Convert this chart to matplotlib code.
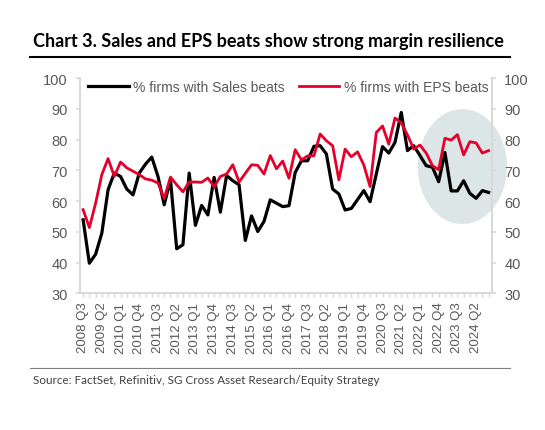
import numpy as np
import matplotlib.pyplot as plt
from matplotlib.patches import Ellipse
from matplotlib.ticker import MultipleLocator

# quarterly data, 2008 Q3 .. 2024 Q4
start_year, start_q = 2008, 3
sales_beats = [53.9, 39.8, 42.7, 49.6, 63.7, 69.1, 68.0, 63.9, 62.0, 69.1,
               72.0, 74.3, 68.0, 58.8, 67.0, 44.5, 45.8, 69.1, 52.1, 58.6,
               55.5, 67.7, 56.4, 68.3, 66.6, 65.3, 47.2, 55.2, 50.1, 53.4,
               60.4, 59.3, 58.2, 58.5, 69.3, 73.1, 73.1, 77.8, 78.0, 75.3,
               63.9, 62.3, 57.1, 57.6, 60.5, 63.4, 59.8, 68.8, 77.7, 75.6,
               79.1, 88.8, 76.4, 78.0, 74.8, 71.5, 71.0, 66.3, 75.8, 63.3,
               63.3, 66.6, 62.5, 60.9, 63.4, 62.8]
eps_beats = [57.2, 51.4, 59.3, 68.6, 73.8, 68.0, 72.7, 70.8, 69.7, 68.6,
             67.2, 66.8, 65.9, 60.8, 67.8, 65.3, 63.0, 66.2, 66.2, 66.1,
             67.5, 64.6, 68.0, 68.8, 71.8, 66.2, 69.0, 71.8, 71.6, 68.8,
             74.8, 70.5, 73.0, 67.4, 76.7, 73.4, 74.7, 74.7, 81.8, 79.6,
             78.0, 66.9, 76.9, 74.4, 76.0, 71.7, 64.7, 82.3, 84.4, 78.5,
             87.0, 85.4, 81.5, 76.9, 78.2, 75.6, 71.5, 70.2, 80.4, 79.8,
             81.6, 75.0, 79.3, 78.9, 75.6, 76.4]

labels = []
y, q = start_year, start_q
for _ in sales_beats:
    labels.append(f"{y} Q{q}")
    q += 1
    if q > 4:
        q, y = 1, y + 1

x = np.arange(len(sales_beats))
grey = '#595959'
axis_col = '#d9d9d9'
red = '#e4002b'

plt.rcParams['font.family'] = ['Liberation Sans', 'DejaVu Sans']

fig = plt.figure(figsize=(5.45, 4.31), dpi=100)
ax = fig.add_axes([0.1468, 0.317, 0.9022 - 0.1468, 0.8167 - 0.317])

ell = Ellipse((60.8, 71.2), 14.3, 37.4, facecolor='#dde6e6', edgecolor='none',
              clip_on=False, zorder=0)
ax.add_patch(ell)

ax.plot(x, sales_beats, color='black', lw=2.3, label='% firms with Sales beats', zorder=3)
ax.plot(x, eps_beats, color=red, lw=2.0, label='% firms with EPS beats', zorder=4)

ax.set_xlim(-0.5, 65.5)
ax.set_ylim(30, 100)
ax.set_yticks(range(30, 101, 10))
ax.set_xticks(x[::3])
ax.set_xticklabels(labels[::3], rotation=90)
ax.xaxis.set_minor_locator(MultipleLocator(1))

ax.spines['top'].set_visible(False)
for s in ['left', 'right', 'bottom']:
    ax.spines[s].set_color(axis_col)
    ax.spines[s].set_linewidth(1.5)

ax.tick_params(axis='y', which='both', left=True, right=True, labelleft=True,
               labelright=True, colors=axis_col, labelcolor=grey, labelsize=10.5,
               length=3, width=1.2, pad=6)
ax.tick_params(axis='x', which='major', colors=axis_col, labelcolor=grey,
               labelsize=9.5, length=3, width=1, pad=3)
ax.tick_params(axis='x', which='minor', colors=axis_col, length=3, width=1)

leg = ax.legend(loc='upper left', ncol=2, frameon=False, fontsize=10,
                handlelength=2.9, handletextpad=0.35, columnspacing=1.0,
                bbox_to_anchor=(0.0, 1.03), borderaxespad=0.2)
for t in leg.get_texts():
    t.set_color(grey)

fig.text(0.06, 0.89, 'Chart 3. Sales and EPS beats show strong margin resilience',
         fontsize=13, fontweight='bold', family=['Lato', 'DejaVu Sans'],
         color='black', va='baseline')
fig.add_artist(plt.Line2D([0.055, 0.935], [0.865, 0.865], color='black', lw=1.5))
fig.add_artist(plt.Line2D([0.055, 0.935], [0.145, 0.145], color='#7f7f7f', lw=0.8))
fig.text(0.06, 0.108, 'Source: FactSet, Refinitiv, SG Cross Asset Research/Equity Strategy',
         fontsize=8.4, family=['Lato', 'DejaVu Sans'], color='#404040', va='baseline')

fig.savefig('out.png', dpi=100)
